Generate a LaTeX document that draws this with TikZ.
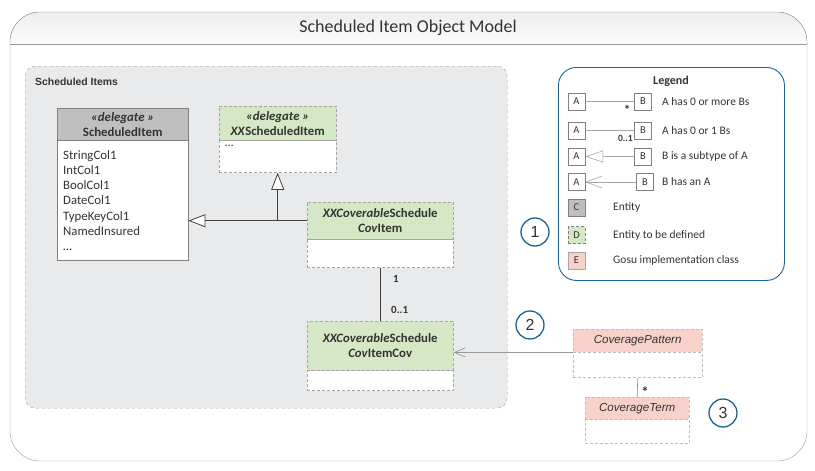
\documentclass[tikz,border=0pt]{standalone}
\usepackage{fontspec}
\setmainfont{Carlito}
\newfontfamily\titlefont{Carlito}
\newfontfamily\arialfont{Liberation Sans}
\usetikzlibrary{positioning}
\usetikzlibrary{arrows.meta}
\definecolor{txt}{HTML}{333333}
\definecolor{framegray}{HTML}{9A9A9A}
\definecolor{groupfill}{HTML}{E9EAEC}
\definecolor{entgray}{HTML}{BFBFBF}
\definecolor{tbdgreen}{HTML}{D5E8C6}
\definecolor{gosupink}{HTML}{F8D2CA}
\definecolor{legblue}{HTML}{1F6391}

\begin{document}
\begin{tikzpicture}[
    x=1pt, y=-1pt,
    every node/.style={text=txt, inner sep=0pt},
    group/.style={draw=framegray, dashed, fill=groupfill, rounded corners=10, anchor=north west},
    enthead/.style={draw=gray, fill=entgray, anchor=north west, align=center, font=\fontsize{12.8}{15}\selectfont\bfseries},
    tbdhead/.style={draw=gray!70, densely dashed, fill=tbdgreen, anchor=north west, align=center, font=\fontsize{12.8}{15}\selectfont\bfseries},
    gosuhead/.style={draw=gray!50, densely dashed, fill=gosupink, anchor=north west, font=\arialfont\fontsize{11.6}{13}\selectfont\itshape},
    entbody/.style={draw=gray, fill=white, anchor=north west},
    tbdbody/.style={draw=gray!70, densely dashed, fill=white, anchor=north west},
    gosubody/.style={draw=gray!50, densely dashed, fill=white, anchor=north west},
    gen/.style={draw=black!75, line width=0.8, -{Triangle[open, length=17, width=13, fill=white]}},
    assoc/.style={draw=black!75, line width=0.8},
    ref/.style={draw=black!40, line width=0.7, -{Straight Barb[length=11, width=9]}},
    mult/.style={font=\fontsize{11}{13}\selectfont\bfseries},
    callout/.style={circle, draw=legblue, line width=1.3, fill=white, minimum size=28, font=\arialfont\fontsize{16}{18}\selectfont},
    lbox/.style={draw=gray, fill=white, minimum size=17, font=\fontsize{10.5}{12}\selectfont},
    ltext/.style={anchor=west, font=\fontsize{11.5}{13}\selectfont},
    lline/.style={draw=black!35, line width=0.6}
]
    \useasboundingbox (0,0) rectangle (815,471);

    % Frame and title
    \fill[top color=black!7, bottom color=black!1] (10,44) [rounded corners=30] -- (10,12) -- (807,12) [sharp corners] -- (807,44) -- cycle;
    \draw[framegray, rounded corners=30] (10,12) rectangle (807,461);
    \draw[framegray] (10,44) -- (807,44);
    \node[font=\titlefont\fontsize{18}{20}\selectfont] (title) at (408,28) {Scheduled Item Object Model};

    % Scheduled Items group
    \node[group, minimum width=482, minimum height=342] (items) at (25,66) {};
    \node[anchor=west, font=\arialfont\fontsize{10.4}{12}\selectfont\bfseries] (itemsLabel) at (35,82) {Scheduled Items};

    % ScheduledItem entity
    \node[enthead, minimum width=131, minimum height=32] (schedHead) at (57,108) {\textit{«delegate »}\\ScheduledItem};
    \node[entbody, minimum width=131, minimum height=120, text width=119, inner xsep=6, align=left,
          font=\fontsize{12.8}{15.3}\selectfont] (schedBody) at (schedHead.south west)
          {StringCol1\\IntCol1\\BoolCol1\\DateCol1\\TypeKeyCol1\\NamedInsured\\\ldots};

    % XXScheduledItem
    \node[tbdhead, minimum width=117, minimum height=34] (xxHead) at (219,106) {\textit{«delegate »}\\\textit{XX}ScheduledItem};
    \node[tbdbody, minimum width=117, minimum height=32] (xxBody) at (xxHead.south west) {};
    \node[anchor=north west, font=\fontsize{12}{14}\selectfont] (xxDots) at ([shift={(6,5)}]xxBody.north west) {\ldots};

    % XXCoverableScheduleCovItem
    \node[tbdhead, minimum width=146, minimum height=37] (covItemHead) at (307,202) {\textit{XXCoverable}Schedule\\\textit{Cov}Item};
    \node[tbdbody, minimum width=146, minimum height=28] (covItemBody) at (covItemHead.south west) {};

    % XXCoverableScheduleCovItemCov
    \node[tbdhead, minimum width=146, minimum height=49] (covCovHead) at (307,321) {\textit{XXCoverable}Schedule\\\textit{Cov}ItemCov};
    \node[tbdbody, minimum width=146, minimum height=20] (covCovBody) at (covCovHead.south west) {};

    % Gosu classes
    \node[gosuhead, minimum width=129, minimum height=23] (patHead) at (573,329) {CoveragePattern};
    \node[gosubody, minimum width=129, minimum height=25] (patBody) at (patHead.south west) {};
    \node[gosuhead, minimum width=104, minimum height=22] (termHead) at (585,397) {CoverageTerm};
    \node[gosubody, minimum width=104, minimum height=24] (termBody) at (termHead.south west) {};

    % Connections
    \draw[gen] (covItemHead.west) -- (schedBody.east |- covItemHead.west);
    \draw[gen] (xxBody.south |- covItemHead.west) -- (xxBody.south);
    \draw[assoc] (covItemBody.south) -- (covCovHead.north);
    \node[mult, anchor=west] (multOne) at (393,279) {1};
    \node[mult, anchor=west] (multOpt) at (391,310) {0..1};
    \draw[ref] (patHead.south west) -- (covCovHead.east |- patHead.south west);
    \draw[lline, draw=black!45] (patBody.south) -- (termHead.north);
    \node[font=\fontsize{15}{15}\selectfont\bfseries] (multMany) at (645,392) {*};

    % Callouts
    \node[callout] (c1) at (535,232) {1};
    \node[callout] (c2) at (530,325) {2};
    \node[callout] (c3) at (723,413) {3};

    % Legend
    \node[draw=legblue, line width=0.9, rounded corners=18, minimum width=226, minimum height=213, anchor=north west] (legend) at (558,67) {};
    \node[font=\fontsize{12}{13}\selectfont\bfseries] (legendTitle) at (671,81) {Legend};

    \node[lbox] (a1) at (576.5,101.5) {A};
    \node[lbox] (b1) at (643,101.5) {B};
    \draw[lline] (a1) -- (b1);
    \node[font=\fontsize{13}{13}\selectfont\bfseries] (s1) at (627,110) {*};
    \node[ltext] (t1) at (662,101.5) {A has 0 or more Bs};

    \node[lbox] (a2) at (576.5,130.5) {A};
    \node[lbox] (b2) at (643,130.5) {B};
    \draw[lline] (a2) -- (b2);
    \node[font=\fontsize{9.5}{11}\selectfont\bfseries, anchor=east] (s2) at (633,138) {0..1};
    \node[ltext] (t2) at (662,130.5) {A has 0 or 1 Bs};

    \node[lbox] (a3) at (576.5,156.5) {A};
    \node[lbox] (b3) at (643,156.5) {B};
    \draw[lline, -{Triangle[open, length=18, width=12, fill=white]}] (b3) -- (a3);
    \node[ltext] (t3) at (662,156.5) {B is a subtype of A};

    \node[lbox] (a4) at (576.5,182) {A};
    \node[lbox] (b4) at (645,182) {B};
    \draw[lline, -{Straight Barb[length=16, width=12]}] (b4) -- (a4);
    \node[ltext] (t4) at (662,182) {B has an A};

    \node[lbox, fill=entgray] (c5) at (576.5,207.5) {C};
    \node[ltext] (t5) at (613,207.5) {Entity};
    \node[lbox, fill=tbdgreen, densely dashed] (d6) at (576.5,235) {D};
    \node[ltext] (t6) at (613,235) {Entity to be defined};
    \node[lbox, fill=gosupink, draw=gray!70] (e7) at (576.5,260.5) {E};
    \node[ltext] (t7) at (613,260.5) {Gosu implementation class};
\end{tikzpicture}
\end{document}
